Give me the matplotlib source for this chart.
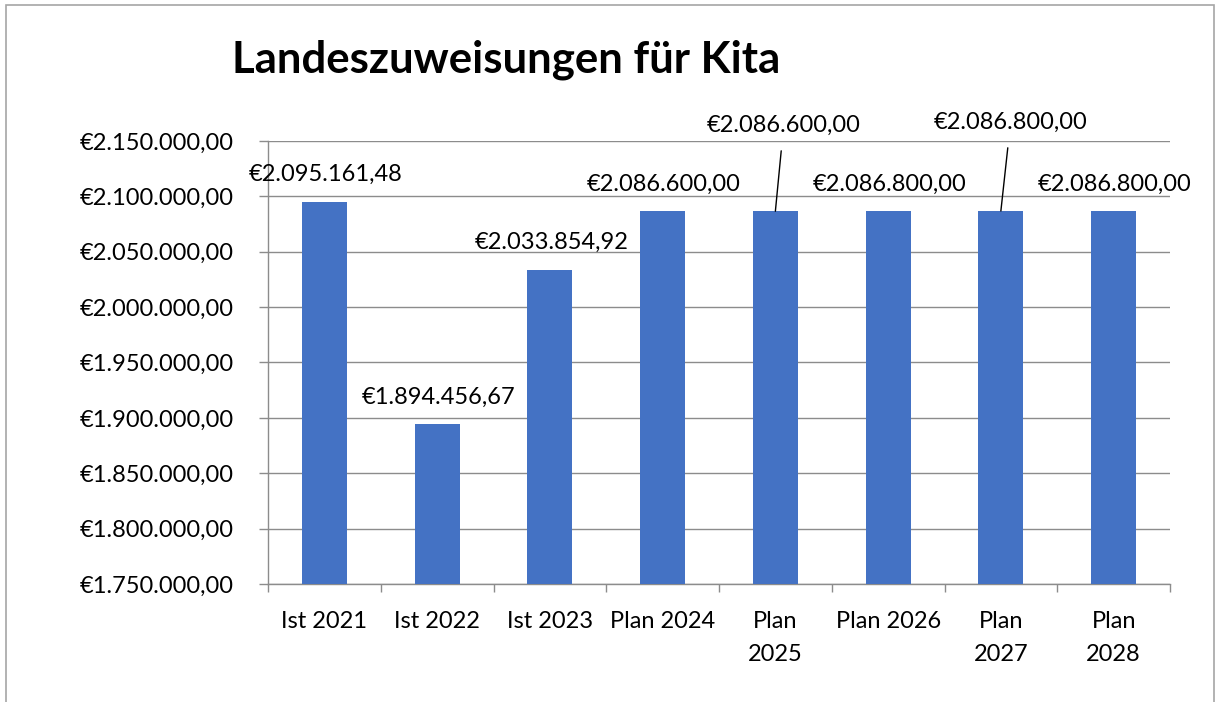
import matplotlib
matplotlib.use("Agg")
import matplotlib.pyplot as plt
from matplotlib.patches import Rectangle
from matplotlib.ticker import FuncFormatter, MultipleLocator, FixedLocator

categories = ["Ist 2021", "Ist 2022", "Ist 2023", "Plan 2024", "Plan\n2025",
              "Plan 2026", "Plan\n2027", "Plan\n2028"]
values = [2095161.48, 1894456.67, 2033854.92, 2086600.00, 2086600.00,
          2086800.00, 2086800.00, 2086800.00]
title = "Landeszuweisungen für Kita"

FONT = "Lato"
plt.rcParams['font.family'] = [FONT, 'DejaVu Sans']
FS = 17

def euro(v):
    s = f"{v:,.2f}"
    s = s.replace(",", "X").replace(".", ",").replace("X", ".")
    return "€" + s

fig = plt.figure(figsize=(12.2, 7.02), dpi=100)
ax = fig.add_axes([268/1220, 1-584/702, (1170-268)/1220, (584-141)/702])

grey = "#8c8c8c"
x = list(range(len(values)))
ax.bar(x, values, width=0.4, color="#4472C4", zorder=3)

ax.set_ylim(1750000, 2150000)
ax.set_xlim(-0.5, len(values) - 0.5)
ax.yaxis.set_major_locator(MultipleLocator(50000))
ax.yaxis.set_major_formatter(FuncFormatter(lambda v, p: euro(v)))
ax.grid(axis='y', color=grey, linewidth=1.0, zorder=0)

ax.set_xticks(x)
ax.set_xticklabels(categories, linespacing=1.7)
ax.xaxis.set_minor_locator(FixedLocator([i - 0.5 for i in range(len(values) + 1)]))
ax.tick_params(axis='x', which='major', length=0, pad=19.5, labelsize=FS)
ax.tick_params(axis='x', which='minor', length=6, width=1, color=grey, direction='out')
ax.tick_params(axis='y', which='major', length=6.5, width=1, color=grey,
               direction='out', pad=18, labelsize=FS)

for s in ['top', 'right']:
    ax.spines[s].set_visible(False)
for s in ['left', 'bottom']:
    ax.spines[s].set_color(grey)
    ax.spines[s].set_linewidth(1.0)

# data labels
special = {4: (6, 62), 6: (7, 64)}
for i, v in enumerate(values):
    if i in special:
        dx, dy = special[i]
        ax.annotate(euro(v), xy=(i, v), xytext=(dx, dy), textcoords='offset points',
                    ha='center', va='center', fontsize=FS,
                    arrowprops=dict(arrowstyle='-', color='black', lw=1.0,
                                    shrinkA=9, shrinkB=0))
    else:
        ax.annotate(euro(v), xy=(i, v), xytext=(1, 19.5), textcoords='offset points',
                    ha='center', va='center', fontsize=FS)

fig.text(232/1220, 1-60/702, title, fontsize=31.5, fontweight='bold',
         ha='left', va='center')

fig.patches.append(Rectangle((6/1220, -0.1), (1214-6)/1220, 1.1 - 5/702,
                             transform=fig.transFigure, fill=False,
                             edgecolor='#a6a6a6', linewidth=1.2))

fig.savefig("out.png", dpi=100)
